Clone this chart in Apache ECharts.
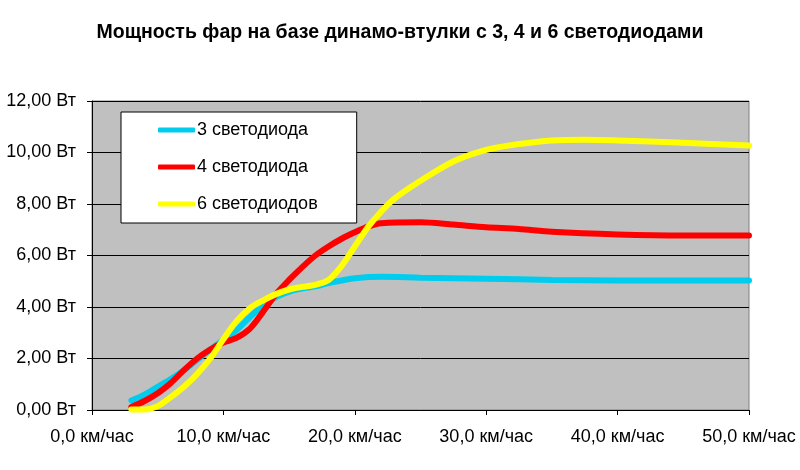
<!DOCTYPE html>
<html>
<head>
<meta charset="utf-8">
<script src="https://cdn.jsdelivr.net/npm/echarts@6/dist/echarts.min.js"></script>
<style>
    html, body { margin: 0; padding: 0; background: #fff; }
    #chart { width: 800px; height: 470px; }
</style>
</head>
<body>
<div id="chart"></div>
<script>
// скорость, км/час
var speed3 = [3, 4, 5, 6, 7, 8, 9, 10, 11, 12, 13, 14, 15, 16, 17, 18, 19, 20, 22, 25, 30, 35, 40, 45, 50];
var power3 = [0.37, 0.6, 0.9, 1.2, 1.55, 1.95, 2.35, 2.72, 3.1, 3.6, 4.05, 4.38, 4.6, 4.72, 4.8, 4.93, 5.03, 5.12, 5.17, 5.14, 5.1, 5.05, 5.03, 5.03, 5.03];

var speed4 = [3, 4, 5, 6, 7, 8, 9, 10, 11, 12, 13, 14, 15, 16, 17, 18, 19, 20, 21, 22, 25, 27.5, 30, 32.5, 35, 40, 45, 50];
var power4 = [0.12, 0.35, 0.65, 1.05, 1.55, 2.0, 2.35, 2.62, 2.8, 3.15, 3.8, 4.5, 5.05, 5.55, 6.0, 6.35, 6.65, 6.9, 7.12, 7.25, 7.29, 7.2, 7.1, 7.03, 6.92, 6.82, 6.78, 6.78];

var speed6 = [3, 4, 5, 6, 7, 8, 9, 10, 11, 12, 13, 14, 15, 16, 17, 18, 19, 20, 21, 22, 23, 25, 27.5, 30, 32.5, 35, 37.5, 40, 45, 50];
var power6 = [0.02, 0.02, 0.15, 0.5, 0.9, 1.4, 2.0, 2.75, 3.45, 3.95, 4.25, 4.5, 4.68, 4.78, 4.86, 5.05, 5.6, 6.35, 7.1, 7.7, 8.2, 8.9, 9.65, 10.1, 10.33, 10.47, 10.5, 10.47, 10.38, 10.27];

var seriesNames = ['3 светодиода', '4 светодиода', '6 светодиодов'];
var seriesColors = ['#00CCEE', '#FF0000', '#FFFF00'];

function pairs(xs, ys) {
    var out = [];
    for (var i = 0; i < xs.length; i++) {
        out.push([xs[i], ys[i]]);
    }
    return out;
}

var myChart = echarts.init(document.getElementById('chart'));
var font = 'Arial, "Liberation Sans", sans-serif';

var allData = [pairs(speed3, power3), pairs(speed4, power4), pairs(speed6, power6)];
var series = [];
for (var k = 0; k < 3; k++) {
    series.push({
        type: 'line',
        name: seriesNames[k],
        data: allData[k],
        smooth: 0.3,
        showSymbol: false,
        symbol: 'none',
        lineStyle: { color: seriesColors[k], width: 6, cap: 'round' },
        itemStyle: { color: seriesColors[k] }
    });
}

var option = {
    animation: false,
    backgroundColor: '#fff',
    title: {
        text: 'Мощность фар на базе динамо-втулки с 3, 4 и 6 светодиодами',
        left: 'center',
        top: 18,
        textStyle: { fontFamily: font, fontSize: 19.5, fontWeight: 'bold', color: '#000' }
    },
    legend: {
        orient: 'vertical',
        left: 121,
        top: 112,
        padding: [9, 39, 10, 37],
        itemGap: 19,
        itemWidth: 37,
        itemHeight: 5,
        icon: 'roundRect',
        backgroundColor: '#fff',
        borderColor: '#000',
        borderWidth: 1,
        textStyle: { fontFamily: font, fontSize: 18, color: '#000', padding: [0, 0, 0, -3] },
        data: seriesNames
    },
    grid: {
        left: 92,
        right: 51,
        top: 101,
        bottom: 60,
        show: true,
        backgroundColor: '#C0C0C0',
        borderColor: '#808080',
        borderWidth: 1
    },
    xAxis: {
        type: 'value',
        min: 0,
        max: 50,
        interval: 10,
        splitLine: { show: false },
        axisLine: { lineStyle: { color: '#000', width: 1 } },
        axisTick: { inside: false, length: 5, lineStyle: { color: '#000' } },
        axisLabel: {
            fontFamily: font, fontSize: 18, color: '#000', margin: 18,
            formatter: function (v) { return v.toFixed(1).replace('.', ',') + ' км/час'; }
        }
    },
    yAxis: {
        type: 'value',
        min: 0,
        max: 12,
        interval: 2,
        splitLine: { show: true, lineStyle: { color: '#000', width: 1 } },
        axisLine: { show: true, lineStyle: { color: '#000', width: 1 } },
        axisTick: { show: true, inside: false, length: 5, lineStyle: { color: '#000' } },
        axisLabel: {
            fontFamily: font, fontSize: 18, color: '#000', margin: 16,
            formatter: function (v) { return v.toFixed(2).replace('.', ',') + ' Вт'; }
        }
    },
    series: series
};

myChart.setOption(option);
</script>
</body>
</html>
